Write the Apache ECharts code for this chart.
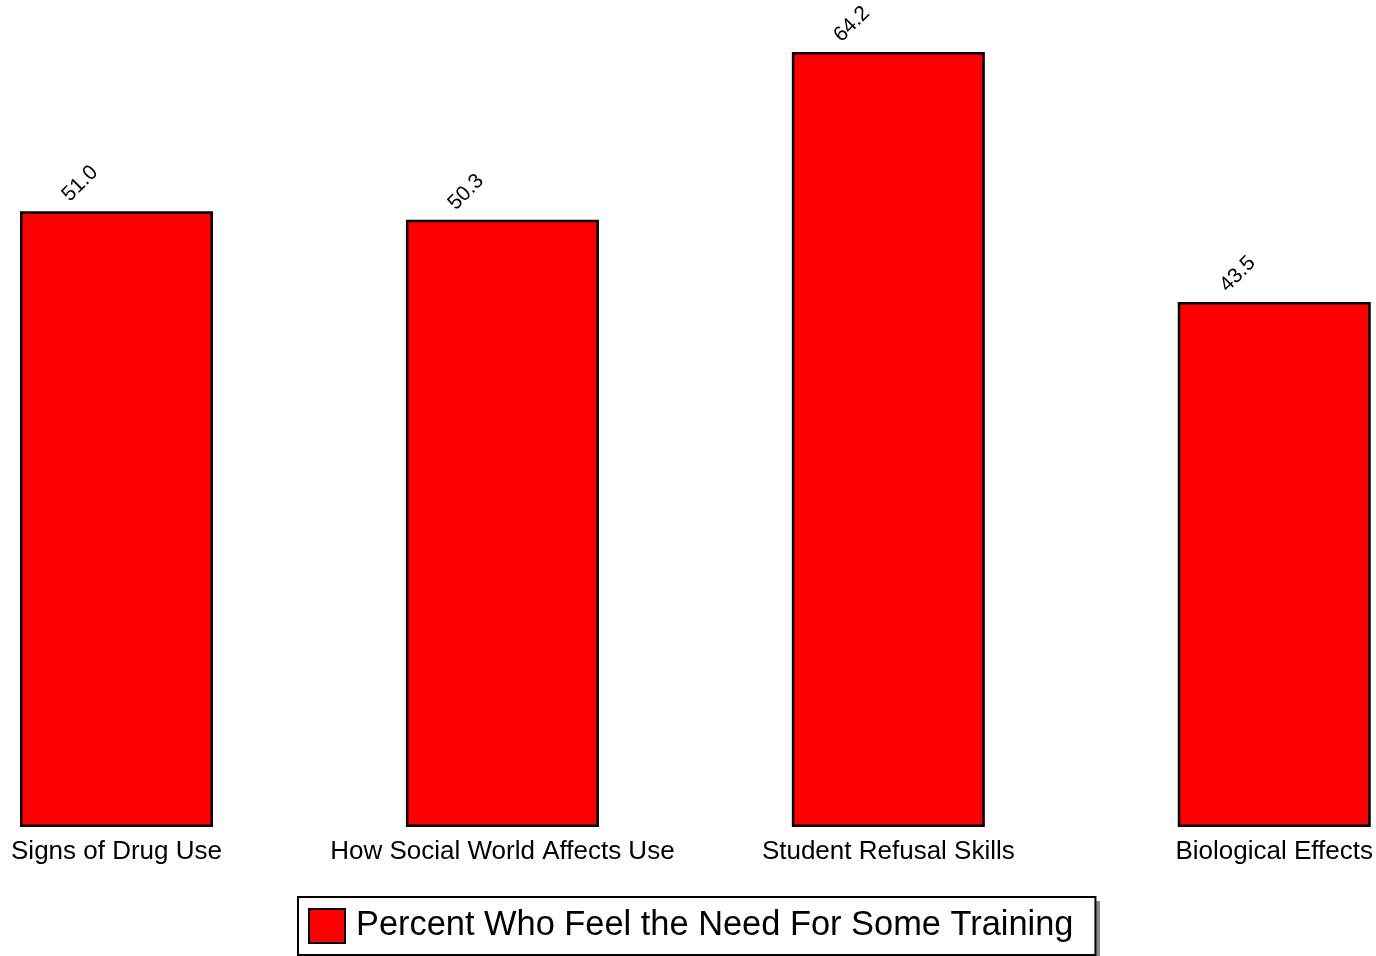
<!DOCTYPE html>
<html>
<head>
<meta charset="utf-8">
<script src="https://cdn.jsdelivr.net/npm/echarts@6/dist/echarts.min.js"></script>
<style>
html,body{margin:0;padding:0;background:#fff;}
#c{width:1376px;height:956px;}
</style>
</head>
<body>
<div id="c"></div>
<script>
const categories = ["Signs of Drug Use", "How Social World Affects Use", "Student Refusal Skills", "Biological Effects"];
const seriesName = "Percent Who Feel the Need For Some Training";
const values = [51.0, 50.3, 64.2, 43.5];

const chart = echarts.init(document.getElementById('c'), null, {renderer: 'canvas'});
chart.setOption({
  animation: false,
  backgroundColor: '#ffffff',
  grid: {left: 116.5, right: 101.5, top: 52, bottom: 129, containLabel: false},
  xAxis: {
    type: 'category',
    data: categories,
    boundaryGap: false,
    axisLine: {show: false},
    axisTick: {show: false},
    splitLine: {show: false},
    axisLabel: {
      color: '#000', fontFamily: 'Liberation Sans, Arial, sans-serif', fontSize: 26,
      margin: 12, interval: 0
    }
  },
  yAxis: {
    type: 'value', min: 0, max: 64.2,
    show: false, splitLine: {show: false}
  },
  graphic: [{
    type: 'rect', z: 1, silent: true,
    shape: {x: 302, y: 901, width: 798, height: 56},
    style: {fill: '#8c8c8c'}
  }],
  legend: {
    data: [{name: seriesName, icon: 'rect'}],
    left: 298, top: 897,
    orient: 'horizontal',
    z: 10,
    backgroundColor: '#fff',
    borderColor: '#000', borderWidth: 2,
    padding: [11, 22, 11, 10],
    itemWidth: 36, itemHeight: 34, itemGap: 10,
    textStyle: {color: '#000', fontFamily: 'Liberation Sans, Arial, sans-serif', fontSize: 34.4, padding: [0, 0, 0, 6]},
    itemStyle: {borderColor: '#000', borderWidth: 2}
  },
  series: [{
    name: seriesName,
    type: 'bar',
    data: values,
    barWidth: 193,
    itemStyle: {color: '#ff0000', borderColor: '#000', borderWidth: 2.5},
    label: {
      show: true, position: 'top', rotate: 45, distance: 4,
      offset: [-9, -32],
      color: '#000', fontFamily: 'Liberation Sans, Arial, sans-serif', fontSize: 21,
      formatter: p => p.value.toFixed(1)
    }
  }]
});
</script>
</body>
</html>
